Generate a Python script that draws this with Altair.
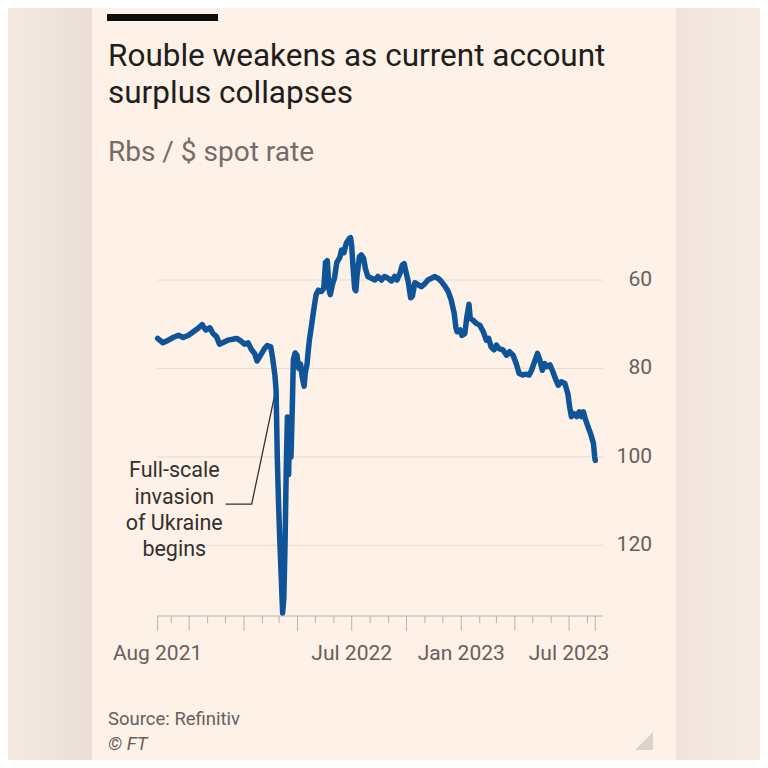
import altair as alt
import pandas as pd

# ---- data ----
dates = [
    "2021-08-09", "2021-08-18", "2021-08-27", "2021-09-04", "2021-09-13", "2021-09-21", "2021-09-30",
    "2021-10-08", "2021-10-16", "2021-10-23", "2021-10-29", "2021-11-05", "2021-11-10", "2021-11-16",
    "2021-11-21", "2021-11-26", "2021-12-05", "2021-12-13", "2021-12-20", "2021-12-26", "2022-01-02",
    "2022-01-08", "2022-01-14", "2022-01-19", "2022-01-23", "2022-01-29", "2022-02-04", "2022-02-09",
    "2022-02-15", "2022-02-18", "2022-02-22", "2022-02-24", "2022-02-26", "2022-02-28", "2022-03-02",
    "2022-03-04", "2022-03-07", "2022-03-09", "2022-03-11", "2022-03-13", "2022-03-15", "2022-03-17",
    "2022-03-19", "2022-03-21", "2022-03-23", "2022-03-25", "2022-03-28", "2022-03-31", "2022-04-03",
    "2022-04-06", "2022-04-09", "2022-04-12", "2022-04-14", "2022-04-17", "2022-04-19", "2022-04-21",
    "2022-04-23", "2022-04-27", "2022-05-02", "2022-05-06", "2022-05-11", "2022-05-15", "2022-05-18",
    "2022-05-21", "2022-05-24", "2022-05-26", "2022-05-30", "2022-06-02", "2022-06-06", "2022-06-11",
    "2022-06-14", "2022-06-18", "2022-06-22", "2022-06-27", "2022-06-29", "2022-07-01", "2022-07-03",
    "2022-07-06", "2022-07-08", "2022-07-10", "2022-07-14", "2022-07-17", "2022-07-21", "2022-07-24",
    "2022-07-28", "2022-08-03", "2022-08-09", "2022-08-14", "2022-08-20", "2022-08-25", "2022-08-31",
    "2022-09-06", "2022-09-11", "2022-09-15", "2022-09-20", "2022-09-24", "2022-09-27", "2022-09-30",
    "2022-10-04", "2022-10-08", "2022-10-11", "2022-10-15", "2022-10-21", "2022-10-26", "2022-11-01",
    "2022-11-06", "2022-11-12", "2022-11-17", "2022-11-23", "2022-11-29", "2022-12-04", "2022-12-10",
    "2022-12-15", "2022-12-20", "2022-12-23", "2022-12-25", "2022-12-30", "2023-01-02", "2023-01-07",
    "2023-01-10", "2023-01-14", "2023-01-16", "2023-01-21", "2023-01-26", "2023-02-01", "2023-02-07",
    "2023-02-12", "2023-02-16", "2023-02-20", "2023-02-25", "2023-03-01", "2023-03-05", "2023-03-12",
    "2023-03-18", "2023-03-23", "2023-03-29", "2023-04-04", "2023-04-08", "2023-04-14", "2023-04-19",
    "2023-04-25", "2023-04-29", "2023-05-05", "2023-05-09", "2023-05-13", "2023-05-17", "2023-05-21",
    "2023-05-25", "2023-05-30", "2023-06-04", "2023-06-09", "2023-06-13", "2023-06-18", "2023-06-24",
    "2023-06-29", "2023-07-02", "2023-07-05", "2023-07-09", "2023-07-14", "2023-07-18", "2023-07-22",
    "2023-07-25", "2023-07-29", "2023-08-02", "2023-08-07", "2023-08-11", "2023-08-13", "2023-08-14",
]
values = [
    73.2, 74.2, 73.6, 73.0, 72.5, 73.0, 72.5,
    71.7, 70.9, 70.1, 71.3, 70.8, 72.1, 72.8,
    74.5, 74.2, 73.6, 73.4, 73.2, 73.7, 74.5,
    74.2, 75.8, 76.6, 78.3, 77.0, 75.6, 74.8,
    75.1, 77.5, 81.5, 85.0, 100.0, 110.0, 118.0,
    125.0, 135.3, 132.0, 120.0, 103.0, 91.0, 104.0,
    92.0, 100.0, 90.0, 78.0, 76.5, 77.0, 80.0,
    79.0, 82.0, 84.0, 81.0, 79.0, 76.0, 73.5,
    71.7, 67.9, 63.4, 62.3, 62.6, 61.9, 56.0,
    55.6, 62.2, 63.3, 60.8, 59.6, 56.0, 54.9,
    53.2, 53.8, 51.6, 50.6, 50.4, 52.3, 56.6,
    62.0, 62.4, 58.9, 54.7, 54.3, 55.1, 57.4,
    59.2, 59.6, 60.0, 59.2, 60.0, 59.2, 59.6,
    60.2, 59.2, 60.0, 58.5, 56.6, 56.3, 58.1,
    60.4, 64.0, 63.6, 60.6, 61.1, 61.5, 60.8,
    60.0, 59.6, 59.2, 59.6, 60.4, 61.3, 62.6,
    64.5, 67.4, 70.8, 71.7, 71.3, 72.5, 72.1,
    68.7, 65.5, 68.7, 69.1, 69.8, 70.2, 71.7,
    73.6, 73.2, 75.1, 75.8, 74.7, 75.5, 75.8,
    77.0, 76.2, 77.0, 79.2, 81.1, 81.5, 81.3,
    81.5, 80.4, 78.1, 76.6, 78.1, 80.4, 78.9,
    79.6, 79.2, 80.8, 82.6, 83.8, 83.0, 83.4,
    85.7, 88.7, 90.9, 90.2, 90.9, 89.8, 90.9,
    89.8, 91.7, 93.2, 95.1, 97.0, 100.0, 100.8,
]

grid_values = [60, 80, 100, 120]
grid_labels = ["60", "80", "100", "120"]
x_label_dates = ["2021-08-09", "2022-07-01", "2023-01-01", "2023-07-01"]
x_labels = ["Aug 2021", "Jul 2022", "Jan 2023", "Jul 2023"]
major_tick_dates = ["2021-08-09", "2021-10-01", "2022-01-01", "2022-04-01", "2022-07-01",
                    "2022-10-01", "2023-01-01", "2023-04-01", "2023-07-01", "2023-08-14"]
minor_tick_dates = ["2021-09-01", "2021-11-01", "2021-12-01", "2022-02-01", "2022-03-01",
                    "2022-05-01", "2022-06-01", "2022-08-01", "2022-09-01", "2022-11-01",
                    "2022-12-01", "2023-02-01", "2023-03-01", "2023-05-01", "2023-06-01",
                    "2023-08-01"]

ann_lines = ["Full-scale", "invasion", "of Ukraine", "begins"]
ann_values = [103.3, 109.2, 115.1, 121.0]
ann_date = "2021-09-06"
leader_dates = ["2021-12-01", "2022-01-14", "2022-02-24"]
leader_values = [110.7, 110.7, 84.5]

title_lines = ["Rouble weakens as current account", "surplus collapses"]
subtitle = "Rbs / $ spot rate"
source = "Source: Refinitiv"
credit = "© FT"

# ---- styling ----
W, H = 446, 389
PANEL = "#FEF1E7"
BLUE = "#0F5499"
GRID = "#E9DCD1"
TICK = "#BDB2A9"
LABEL = "#66605C"
INK = "#211D1B"
FONT = "Roboto"


def dt(s):
    y, m, d = map(int, s.split("-"))
    return alt.DateTime(year=y, month=m, date=d, utc=True)


xscale = alt.Scale(type="utc", domain=[dt("2021-08-08"), dt("2023-08-27")])
yscale = alt.Scale(domain=[48, 136], reverse=True, nice=False, zero=False)


def X(field="date"):
    return alt.X(f"{field}:T", scale=xscale, axis=None)


def Y(field="rate"):
    return alt.Y(f"{field}:Q", scale=yscale, axis=None)


df = pd.DataFrame({"date": dates, "rate": values})
grid_df = pd.DataFrame({"rate": grid_values, "lab": grid_labels})
xlab_df = pd.DataFrame({"date": x_label_dates, "lab": x_labels})

grid = alt.Chart(grid_df).mark_rule(color=GRID, strokeWidth=1).encode(
    y=Y(), x=alt.value(0), x2=alt.value(W))
ylabels = alt.Chart(grid_df).mark_text(
    font=FONT, fontSize=21, color=LABEL, align="right", baseline="middle").encode(
    y=Y(), x=alt.value(W + 49), text="lab:N")
baseline = alt.Chart(pd.DataFrame({"k": [0]})).mark_rule(color=TICK, strokeWidth=1).encode(
    y=alt.value(H), x=alt.value(0), x2=alt.value(W))
xlabels = alt.Chart(xlab_df).mark_text(
    font=FONT, fontSize=21, color=LABEL, align="center", baseline="alphabetic").encode(
    x=X(), y=alt.value(H + 44), text="lab:N")
minor = alt.Chart(pd.DataFrame({"date": minor_tick_dates})).mark_rule(color=TICK, strokeWidth=1).encode(
    x=X(), y=alt.value(H), y2=alt.value(H + 7))
major = alt.Chart(pd.DataFrame({"date": major_tick_dates})).mark_rule(color=TICK, strokeWidth=1).encode(
    x=X(), y=alt.value(H), y2=alt.value(H + 15))

line = alt.Chart(df).mark_line(color=BLUE, strokeWidth=5.5, strokeJoin="round", strokeCap="round").encode(
    x=X(), y=Y())

leader = alt.Chart(pd.DataFrame({"date": leader_dates, "rate": leader_values})).mark_line(
    color="#33302E", strokeWidth=1.3).encode(x=X(), y=Y())

ann = alt.Chart(pd.DataFrame({"date": [ann_date] * len(ann_lines), "rate": ann_values, "t": ann_lines})).mark_text(
    font=FONT, fontSize=21.5, color="#33302E", align="center", baseline="middle").encode(
    x=X(), y=Y(), text="t:N")

# side bands outside the cream panel
band_l = alt.Chart(pd.DataFrame({"k": [0]})).mark_rect(
    fill=alt.Gradient(gradient="linear", x1=0, x2=1, y1=0, y2=0,
                      stops=[alt.GradientStop(offset=0, color="#F5EAE2"),
                             alt.GradientStop(offset=1, color="#EADED5")])).encode(
    x=alt.value(-149), x2=alt.value(-65), y=alt.value(-219), y2=alt.value(533))
band_r = alt.Chart(pd.DataFrame({"k": [0]})).mark_rect(
    fill=alt.Gradient(gradient="linear", x1=0, x2=1, y1=0, y2=0,
                      stops=[alt.GradientStop(offset=0, color="#F0E4DB"),
                             alt.GradientStop(offset=1, color="#F7ECE4")])).encode(
    x=alt.value(519), x2=alt.value(603), y=alt.value(-219), y2=alt.value(533))

bar = alt.Chart(pd.DataFrame({"k": [0]})).mark_rect(color="#0D0D0D").encode(
    x=alt.value(-50), x2=alt.value(61), y=alt.value(-213), y2=alt.value(-206))

t1 = alt.Chart(pd.DataFrame({"t": [title_lines[0]]})).mark_text(
    font=FONT, fontSize=31.5, color=INK, align="left", baseline="alphabetic").encode(
    x=alt.value(-49), y=alt.value(-161), text="t:N")
t2 = alt.Chart(pd.DataFrame({"t": [title_lines[1]]})).mark_text(
    font=FONT, fontSize=31.5, color=INK, align="left", baseline="alphabetic").encode(
    x=alt.value(-49), y=alt.value(-124), text="t:N")
sub = alt.Chart(pd.DataFrame({"t": [subtitle]})).mark_text(
    font=FONT, fontSize=28, color="#736C67", align="left", baseline="alphabetic").encode(
    x=alt.value(-49), y=alt.value(-66), text="t:N")
src = alt.Chart(pd.DataFrame({"t": [source]})).mark_text(
    font=FONT, fontSize=18.5, color=LABEL, align="left", baseline="alphabetic").encode(
    x=alt.value(-49), y=alt.value(498), text="t:N")
cred = alt.Chart(pd.DataFrame({"t": [credit]})).mark_text(
    font=FONT, fontSize=18.5, fontStyle="italic", color=LABEL, align="left", baseline="alphabetic").encode(
    x=alt.value(-49), y=alt.value(523), text="t:N")
tri = alt.Chart(pd.DataFrame({"k": [0]})).mark_point(
    shape="M 1 -1 L 1 1 L -1 1 Z", filled=True, color="#DCD2CA", opacity=1, size=324).encode(
    x=alt.value(487), y=alt.value(514))

chart = alt.layer(
    band_l, band_r, bar, t1, t2, sub, src, cred, tri,
    grid, ylabels, baseline, minor, major, xlabels, leader, ann, line,
).properties(
    width=W, height=H,
    padding={"left": 149, "top": 219, "right": 157, "bottom": 144},
    autosize=alt.AutoSizeParams(type="none"),
    background=PANEL,
).configure_view(stroke=None)

chart.save("out.html", embed_options={"renderer": "svg", "actions": False})
